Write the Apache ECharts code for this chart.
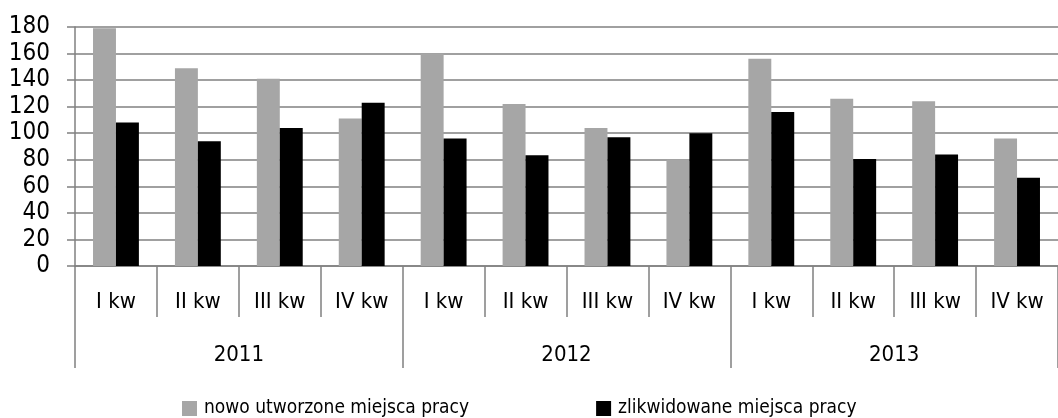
<!DOCTYPE html>
<html>
<head>
<meta charset="utf-8">
<script src="https://cdn.jsdelivr.net/npm/echarts@6/dist/echarts.min.js"></script>
<style>html,body{margin:0;padding:0;background:#fff;}#c{width:1058px;height:418px;}</style>
</head>
<body>
<div id="c"></div>
<script>
var quarters = ['I kw','II kw','III kw','IV kw','I kw','II kw','III kw','IV kw','I kw','II kw','III kw','IV kw'];
var years = ['2011','2012','2013'];
var created = [179,149,141,111,160,122,104,80,156,126,124,96];
var liquidated = [108,94,104,123,96,83.5,97,100,116,80.5,84,66.5];
var seriesNames = ['nowo utworzone miejsca pracy','zlikwidowane miejsca pracy'];

var FONT = "'Liberation Sans Narrow','DejaVu Sans Condensed',sans-serif";
var LINE = '#808080';
var chart = echarts.init(document.getElementById('c'));
chart.setOption({
  animation: false,
  textStyle: {fontFamily: FONT, color: '#000'},
  grid: {left: 75, right: -9, top: 27, bottom: 152, containLabel: false},
  legend: {
    top: 399, left: 182, padding: 0, itemGap: 127, itemWidth: 15, itemHeight: 15,
    icon: 'rect',
    textStyle: {fontFamily: FONT, fontSize: 19, color: '#000', padding: [0,0,0,2]},
    data: seriesNames
  },
  xAxis: [{
    type: 'category', data: quarters, position: 'bottom',
    axisLine: {show: true, lineStyle: {color: LINE, width: 1.5}},
    axisTick: {show: true, interval: 0, length: 51, lineStyle: {color: LINE, width: 1.5}},
    axisLabel: {interval: 0, margin: 25, fontSize: 22, color: '#000', fontFamily: FONT},
    splitLine: {show: false}
  }, {
    type: 'category', data: years, position: 'bottom',
    axisLine: {show: false},
    axisTick: {show: true, interval: 0, length: 102, lineStyle: {color: LINE, width: 1.5}},
    axisLabel: {interval: 0, margin: 78, fontSize: 22, color: '#000', fontFamily: FONT},
    splitLine: {show: false}
  }],
  yAxis: {
    type: 'value', min: 0, max: 180, interval: 20,
    axisLine: {show: true, lineStyle: {color: LINE, width: 1.5}},
    axisTick: {show: true, length: 8, lineStyle: {color: LINE, width: 1.5}},
    axisLabel: {margin: 25, fontSize: 24, color: '#000', fontFamily: FONT},
    splitLine: {show: true, lineStyle: {color: LINE, width: 1.5}}
  },
  series: [{
    name: seriesNames[0], type: 'bar', xAxisIndex: 0, data: created,
    itemStyle: {color: '#a6a6a6'}, barGap: '0%', barCategoryGap: '44%'
  }, {
    name: seriesNames[1], type: 'bar', xAxisIndex: 0, data: liquidated,
    itemStyle: {color: '#000000'}, barGap: '0%', barCategoryGap: '44%'
  }]
});
</script>
</body>
</html>
